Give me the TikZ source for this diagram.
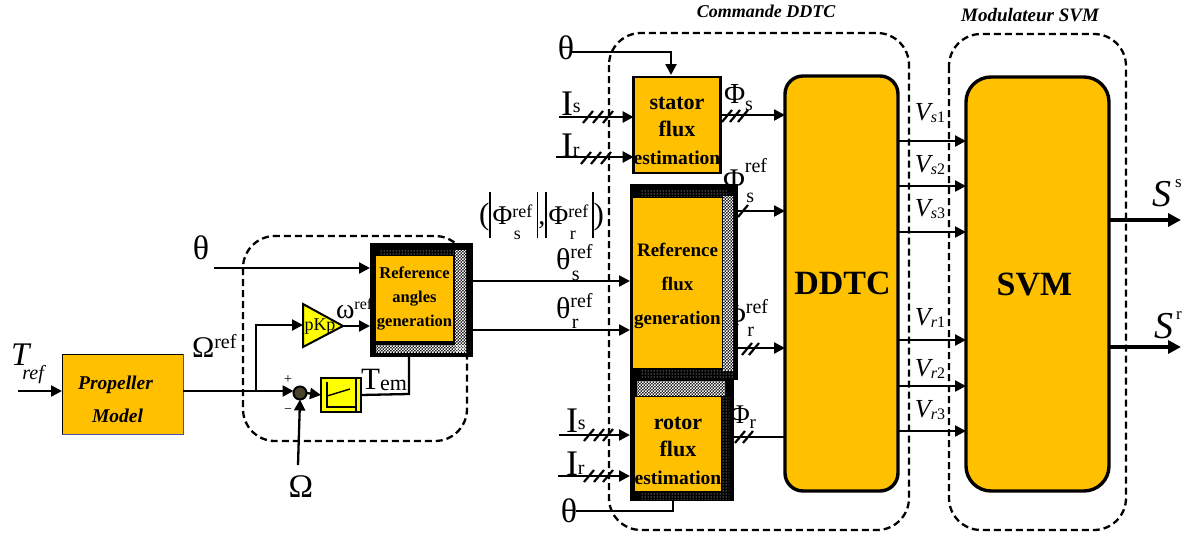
\documentclass[tikz,border=0pt]{standalone}
\usepackage{fontspec}
\setmainfont{Liberation Serif}
\usetikzlibrary{arrows.meta,patterns,calc}
\definecolor{org}{HTML}{FFC000}
\definecolor{yel}{HTML}{FFFF00}
\definecolor{sumc}{HTML}{4A452A}
\pgfdeclarepatternformonly{finecheck}{\pgfqpoint{-0.1pt}{-0.1pt}}{\pgfqpoint{3.1pt}{3.1pt}}{\pgfqpoint{3pt}{3pt}}{%
  \pgfpathrectangle{\pgfqpoint{0pt}{0pt}}{\pgfqpoint{1.5pt}{1.5pt}}%
  \pgfpathrectangle{\pgfqpoint{1.5pt}{1.5pt}}{\pgfqpoint{1.5pt}{1.5pt}}%
  \pgfusepath{fill}}
\newcommand{\fs}[1]{\fontsize{#1}{#1}\selectfont}
% base, sup, sub, base size, script size, raise, drop
\newcommand{\SupSub}[7]{{\fs{#4}#1}\rlap{\raisebox{#6pt}{\fs{#5}#2}}{\raisebox{-#7pt}{\fs{#5}\hspace{1.5pt}#3}}\hspace{16pt}}
\newcommand{\SupOnly}[5]{{\fs{#3}#1}\raisebox{#5pt}{\fs{#4}#2}}
\newcommand{\SubOnly}[5]{{\fs{#3}#1}\raisebox{#5pt}{\fs{#4}#2}}
\newcommand{\VV}[2]{{\fs{26}\itshape V}{\fs{16}\raisebox{-2pt}{\itshape #1\upshape #2}}}
\newcommand{\BarR}{\rule[-14pt]{1.6pt}{46pt}}
\newcommand{\Ticks}[3]{\foreach \d in {#3}{\draw[line width=2.2pt] ($(#1+\d,#2)+(-5,6)$) -- ($(#1+\d,#2)+(5,-6)$);}}
\begin{document}
\begin{tikzpicture}[x=1pt,y=-1pt,
  every node/.style={inner sep=0pt,outer sep=0pt,text=black},
  dbox/.style={draw=black,line width=2.3pt,dash pattern=on 7pt off 4pt,rounded corners=32pt},
  conn/.style={draw=black,line width=2.3pt,-{Triangle[length=11pt,width=11pt]}},
  bigconn/.style={draw=black,line width=3.4pt,-{Triangle[length=13pt,width=13pt]}},
  plain/.style={draw=black,line width=2.3pt},
  obox/.style={fill=org,draw=black,line width=2.8pt,align=center,font=\bfseries},
  black block/.style={fill=black,draw=none},
  hatchg/.style={pattern=finecheck,pattern color=white},
  dotsw/.style={pattern=dots,pattern color=white},
  lab/.style={anchor=center,align=center},
  bl/.style={anchor=base west}]
\useasboundingbox (0,0) rectangle (1187,533);
% dashed groups
\draw[dbox] (243,236) rectangle (467,441);
\draw[dbox] (609,33) rectangle (909,530);
\draw[dbox] (949,34) rectangle (1126,530);
\node[lab,font=\fs{18}\bfseries\itshape] (tddtc) at (766,11) {Commande DDTC};
\node[lab,font=\fs{19}\bfseries\itshape] (tsvm) at (1030,15) {Modulateur SVM};
% propeller
\node[fill=org,draw=blue!40!gray,line width=1pt,minimum width=121pt,minimum height=80pt,align=center,font=\fs{19.5}\bfseries\itshape] (prop) at (122.5,394) {\rule{0pt}{24pt}\hspace*{-14pt}Propeller\\[13pt]\hspace*{-10pt}Model};
\draw[line width=1pt,black] (prop.south west) -- (prop.north west) -- (prop.north east);
% labels hidden partly behind the blocks
\node[bl] (lphsr) at (723,189) {\SupSub{Φ}{ref}{s}{30}{20}{17}{13}};
\node[bl] (lphrr) at (724,325) {\SupSub{Φ}{ref}{r}{30}{20}{12}{11}};
\node[bl] (lphr) at (730,423) {\SubOnly{Φ}{r}{27}{19}{-5}};
% reference angles
\node[black block,minimum width=103pt,minimum height=114pt] (rag) at (421.5,300) {};
\fill[dotsw] (380,249) rectangle (456,255);
\fill[hatchg] (455,250) rectangle (466,352);
\fill[hatchg] (376,345) rectangle (466,352);
\node[fill=org,minimum width=77pt,minimum height=85pt,align=center,font=\fs{16.5}\bfseries] (ragi) at (414.5,298.5) {Reference\\[8pt]angles\\[7pt]generation};
% gain and sum and limiter
\path[fill=yel,draw=black,line width=2pt] (303,304) coordinate (ga) -- (303,347) coordinate (gb) -- (343,326) coordinate (gc) -- cycle;
\node[lab,font=\fs{18}] (pkp) at (320,327) {pKp};
\node[circle,fill=sumc,draw=black,line width=2pt,minimum size=13pt] (sum) at (300,393) {};
\node[fill=yel,draw=black,line width=2.6pt,minimum width=40pt,minimum height=34pt] (lim) at (341,395) {};
\draw[line width=1.4pt,black] (327,382) -- (327,407) -- (356,407);
\draw[line width=1.4pt,black] (327,396) -- (350,389);
\draw[line width=1.4pt,black] (356,379) -- (356,411);
% stator
\node[obox,minimum width=86pt,minimum height=96pt,font=\fs{22}\bfseries] (stator) at (677,125) {\rule{0pt}{25pt}stator\\[5pt]flux\\[6pt]{\fs{19.5}estimation}};
% reference flux
\node[black block,minimum width=108pt,minimum height=196pt] (rfb) at (684,282) {};
\fill[dotsw] (640,189) rectangle (728,196);
\fill[hatchg] (723,196) rectangle (733,370);
\fill[dotsw] (640,370) rectangle (733,377);
\node[fill=org,minimum width=89pt,minimum height=170pt,align=center,font=\fs{19}\bfseries] (rfi) at (677.5,283) {\rule{0pt}{19pt}Reference\\[15pt]flux\\[15pt]generation};
% rotor
\node[black block,minimum width=104pt,minimum height=123pt] (rot) at (682,439.5) {};
\fill[hatchg] (637,381) rectangle (725,395);
\fill[dotsw] (722,396) rectangle (729,492);
\fill[dotsw] (640,493) rectangle (729,499);
\node[fill=org,minimum width=84pt,minimum height=94pt,align=center,font=\fs{22}\bfseries] (roti) at (678,444) {\rule{0pt}{27pt}rotor\\[5pt]flux\\[6pt]{\fs{19.5}estimation}};
% main blocks
\node[fill=org,draw=black,line width=3.4pt,rounded corners=18pt,minimum width=113pt,minimum height=415pt,font=\fs{34}\bfseries] (ddtc) at (841.5,283.5) {\hspace*{2pt}DDTC};
\node[fill=org,draw=black,line width=3.4pt,rounded corners=25pt,minimum width=143pt,minimum height=414pt,font=\fs{34}\bfseries] (svm) at (1037.5,284) {\hspace*{-6pt}SVM};
% free ends
\coordinate (tin) at (18,391);
\coordinate (thA) at (214,268);
\coordinate (omg) at (298,465);
\coordinate (thB) at (572,52);
\coordinate (isA) at (559,117);
\coordinate (irA) at (556,157);
\coordinate (isB) at (559,435);
\coordinate (irB) at (558,476);
\coordinate (thC) at (576,511);
\coordinate (oSs) at (1181,220);
\coordinate (oSr) at (1181,347);
\coordinate (br) at (256,391);
% connectors
\draw[conn] (tin) -- (prop.west |- tin);
\draw[conn] (prop.east |- br) -- (sum.west |- br);
\draw[conn] (br) -- (256,325) -- (ga |- 0,325);
\draw[conn] (gc) -- (rag.west |- gc);
\draw[conn] (thA) -- (rag.west |- thA);
\draw[conn] (omg) -- (sum.south);
\draw[conn] (sum.east) -- (lim.west);
\draw[plain] (lim.east) -- (409,394) -- (409,357);
\draw[conn] (rag.east |- 0,281) -- (rfb.west |- 0,281);
\draw[conn] (rag.east |- 0,330) -- (rfb.west |- 0,330);
\draw[conn] (thB) -- (671,52) -- (671,75);
\draw[conn] (isA) -- (stator.west |- isA);
\draw[conn] (irA) -- (stator.west |- irA);
\draw[conn] (stator.east |- 0,115) -- (ddtc.west |- 0,115);
\draw[conn] (rfb.east |- 0,211) -- (ddtc.west |- 0,211);
\draw[conn] (rfb.east |- 0,348) -- (ddtc.west |- 0,348);
\draw[plain] (rot.east |- 0,437) -- (ddtc.west |- 0,437);
\draw[conn] (isB) -- (rot.west |- isB);
\draw[conn] (irB) -- (rot.west |- irB);
\draw[plain] (thC) -- (673,511) -- (673,501);
\foreach \yy in {141,186,232,340,386,431}{\draw[conn] (ddtc.east |- 0,\yy) -- (svm.west |- 0,\yy);}
\draw[bigconn] (svm.east |- oSs) -- (oSs);
\draw[bigconn] (svm.east |- oSr) -- (oSr);
% ticks
\Ticks{588}{117}{0,10,20}\Ticks{586}{158}{0,10,20}\Ticks{727}{116}{0,8,16}
\Ticks{589}{435}{0,10,19}\Ticks{589}{476}{0,10,19}\Ticks{740}{437}{0,8}
\Ticks{743}{211}{0}\Ticks{747}{349}{0,7}
% labels
\node[bl] (ltref) at (11,365) {{\fs{33}\itshape T}\hspace{-7pt}\raisebox{-14pt}{\fs{20}\itshape ref}};
\node[bl] (lomr) at (192,357) {\SupOnly{Ω}{ref}{30}{20}{9}};
\node[lab,font=\fs{34}] (lth1) at (201,248) {θ};
\node[lab] (lome) at (301,487) {{\fs{33}Ω}};
\node[bl] (lomg) at (336,318) {\SupOnly{ω}{ref}{28}{16}{9}};
\node[lab,font=\fs{14}] (lpl) at (288,380) {+};
\node[lab,font=\fs{14}] (lmi) at (288,411) {−};
\node[lab] (ltem) at (384,380) {{\fs{31}T}{\fs{22}\raisebox{-1pt}{em}}};
\node[lab,font=\fs{34}] (lth2) at (566,48) {θ};
\node[bl] (lis1) at (561,115) {\SubOnly{I}{s}{36}{20}{3}};
\node[bl] (lir1) at (561,157) {\SubOnly{I}{r}{36}{20}{1}};
\node[bl] (lis2) at (566,432) {\SubOnly{I}{s}{36}{20}{3}};
\node[bl] (lir2) at (566,475) {\SubOnly{I}{r}{36}{20}{1}};
\node[lab,font=\fs{34}] (lth3) at (569,511) {θ};
\node[bl] (lphs) at (724,103) {\SubOnly{Φ}{s}{29}{20}{-7}};
\node[bl] (lths) at (556,269) {\SupSub{θ}{ref}{s}{30}{20}{11}{11}};
\node[bl] (lthr) at (556,318) {\SupSub{θ}{ref}{r}{30}{20}{11}{10}};
\node[bl] (lpair) at (479,224) {{\fs{31}(}\BarR\,\SupSub{Φ}{ref}{s}{27}{18}{7}{15}\BarR{\fs{28},}\BarR\,\SupSub{Φ}{ref}{r}{27}{18}{7}{15}\BarR{\fs{31})}};
\node[lab] (lv1) at (930,113) {\VV{s}{1}};
\node[lab] (lv2) at (930,165) {\VV{s}{2}};
\node[lab] (lv3) at (930,209) {\VV{s}{3}};
\node[lab] (lv4) at (930,318) {\VV{r}{1}};
\node[lab] (lv5) at (930,369) {\VV{r}{2}};
\node[lab] (lv6) at (930,410) {\VV{r}{3}};
\node[bl] (lss) at (1152,206) {{\fs{38}\itshape S}\hspace{4pt}\raisebox{19pt}{\fs{17}s}};
\node[bl] (lsr) at (1154,338) {{\fs{38}\itshape S}\hspace{3pt}\raisebox{19pt}{\fs{17}r}};
\end{tikzpicture}
\end{document}
